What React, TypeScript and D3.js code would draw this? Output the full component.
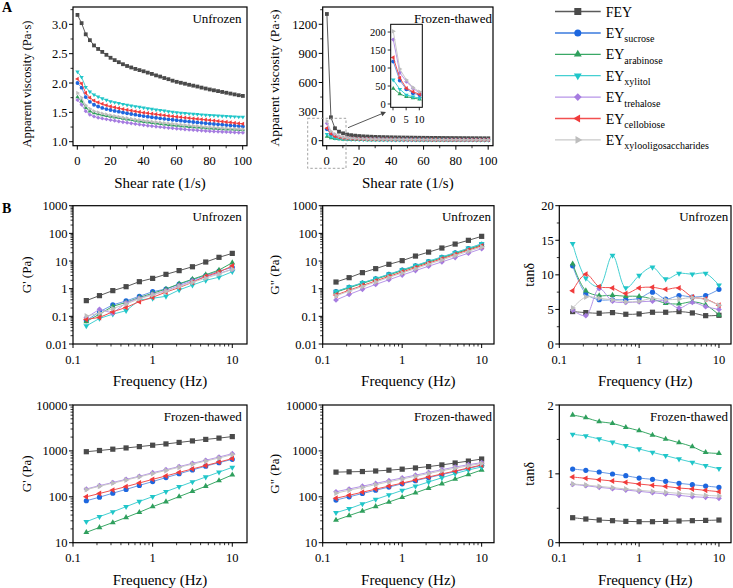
import React from 'react';
import * as d3 from 'd3';

const FONT = "'Liberation Serif', 'Times New Roman', Times, serif";

// ---------- series identity ----------
const seriesMain = ['FEY', 'EY', 'EY', 'EY', 'EY', 'EY', 'EY'];
const seriesSub = ['', 'sucrose', 'arabinose', 'xylitol', 'trehalose', 'cellobiose', 'xylooligosaccharides'];
const markerColors = ['#4a4a4a', '#1d67df', '#2f9f5d', '#20c6c9', '#a67ce0', '#f03b3b', '#bdbdbd'];
const lineColors = ['#5a5a5a', '#6b9be6', '#3aa866', '#45d0d2', '#b795e8', '#f25050', '#c9c9c9'];
const markerShapes = ['square', 'circle', 'up', 'down', 'diamond', 'left', 'right'];

// ---------- A: apparent viscosity vs shear rate ----------
const shearRate = [0.1, 2.6, 5.1, 7.6, 10.1, 12.6, 15.1, 17.6, 20.1, 22.6, 25.1, 27.6, 30.1, 32.6, 35.1, 37.6, 40.1, 42.6, 45.1, 47.6, 50.1, 52.6, 55.1, 57.6, 60.1, 62.6, 65.1, 67.6, 70.1, 72.6, 75.1, 77.6, 80.1, 82.6, 85.1, 87.6, 90.1, 92.6, 95.1, 97.6, 100.1];

const viscUnfrozenFEY = [3.16, 3.02, 2.83, 2.73, 2.64, 2.58, 2.53, 2.48, 2.43, 2.39, 2.355, 2.32, 2.29, 2.265, 2.24, 2.22, 2.2, 2.177, 2.155, 2.13, 2.11, 2.085, 2.065, 2.04, 2.02, 2.004, 1.988, 1.97, 1.955, 1.94, 1.922, 1.906, 1.89, 1.876, 1.862, 1.848, 1.834, 1.82, 1.806, 1.792, 1.78];
const viscUnfrozenSucrose = [2.0, 1.92, 1.76, 1.68, 1.63, 1.6, 1.575, 1.556, 1.54, 1.525, 1.511, 1.498, 1.485, 1.472, 1.46, 1.448, 1.436, 1.426, 1.417, 1.408, 1.399, 1.39, 1.382, 1.374, 1.366, 1.358, 1.35, 1.343, 1.336, 1.329, 1.322, 1.315, 1.308, 1.302, 1.296, 1.29, 1.284, 1.278, 1.272, 1.266, 1.26];
const viscUnfrozenArabinose = [1.76, 1.69, 1.58, 1.52, 1.49, 1.47, 1.455, 1.442, 1.43, 1.418, 1.406, 1.394, 1.383, 1.372, 1.361, 1.35, 1.34, 1.331, 1.322, 1.313, 1.305, 1.297, 1.289, 1.281, 1.274, 1.268, 1.262, 1.256, 1.25, 1.245, 1.24, 1.235, 1.23, 1.226, 1.222, 1.218, 1.214, 1.21, 1.206, 1.202, 1.198];
const viscUnfrozenXylitol = [2.19, 2.1, 1.93, 1.85, 1.8, 1.765, 1.735, 1.71, 1.685, 1.67, 1.655, 1.64, 1.627, 1.614, 1.602, 1.59, 1.578, 1.567, 1.556, 1.546, 1.536, 1.526, 1.516, 1.506, 1.497, 1.49, 1.484, 1.478, 1.472, 1.466, 1.461, 1.456, 1.451, 1.447, 1.443, 1.439, 1.435, 1.431, 1.427, 1.423, 1.42];
const viscUnfrozenTrehalose = [1.71, 1.63, 1.52, 1.46, 1.43, 1.41, 1.395, 1.382, 1.37, 1.358, 1.346, 1.335, 1.324, 1.313, 1.303, 1.293, 1.283, 1.274, 1.266, 1.258, 1.25, 1.243, 1.236, 1.229, 1.222, 1.216, 1.21, 1.204, 1.199, 1.194, 1.189, 1.184, 1.18, 1.176, 1.172, 1.168, 1.165, 1.162, 1.159, 1.156, 1.153];
const viscUnfrozenCellobiose = [2.07, 1.99, 1.83, 1.75, 1.7, 1.67, 1.645, 1.62, 1.6, 1.585, 1.57, 1.556, 1.543, 1.53, 1.518, 1.506, 1.495, 1.486, 1.477, 1.468, 1.459, 1.45, 1.441, 1.433, 1.425, 1.417, 1.41, 1.402, 1.395, 1.388, 1.381, 1.374, 1.367, 1.36, 1.352, 1.344, 1.336, 1.328, 1.32, 1.312, 1.305];
const viscUnfrozenXylo = [1.83, 1.75, 1.62, 1.56, 1.52, 1.5, 1.48, 1.465, 1.45, 1.437, 1.424, 1.412, 1.4, 1.389, 1.378, 1.368, 1.358, 1.35, 1.342, 1.334, 1.326, 1.318, 1.311, 1.304, 1.297, 1.29, 1.283, 1.277, 1.271, 1.265, 1.259, 1.253, 1.247, 1.242, 1.237, 1.232, 1.228, 1.224, 1.22, 1.216, 1.212];

const viscThawedFEY = [1306, 241, 128, 93, 76, 64, 57, 52, 48, 45, 43, 41, 39.5, 38, 37, 36, 35, 34.2, 33.5, 32.8, 32.2, 31.6, 31, 30.5, 30, 29.6, 29.2, 28.8, 28.4, 28, 27.7, 27.4, 27.1, 26.8, 26.5, 26.2, 26, 25.7, 25.5, 25.2, 25];
const viscThawedSucrose = [118, 65, 41, 30, 25, 21, 18.8, 17.2, 16, 15, 14.2, 13.6, 13, 12.5, 12.1, 11.7, 11.3, 11, 10.7, 10.4, 10.2, 10, 9.8, 9.6, 9.4, 9.2, 9, 8.9, 8.7, 8.6, 8.5, 8.3, 8.2, 8.1, 8, 7.9, 7.8, 7.7, 7.6, 7.5, 7.4];
const viscThawedArabinose = [43, 28, 20, 17, 13, 11.5, 10.4, 9.6, 9, 8.5, 8.1, 7.8, 7.5, 7.2, 7, 6.8, 6.6, 6.4, 6.3, 6.1, 6, 5.9, 5.8, 5.7, 5.6, 5.5, 5.4, 5.3, 5.25, 5.2, 5.1, 5.05, 5, 4.95, 4.9, 4.85, 4.8, 4.75, 4.7, 4.65, 4.6];
const viscThawedXylitol = [67, 41, 25, 20, 16, 14, 12.6, 11.6, 10.8, 10.2, 9.7, 9.3, 8.9, 8.6, 8.3, 8.1, 7.9, 7.7, 7.5, 7.3, 7.2, 7, 6.9, 6.8, 6.7, 6.6, 6.5, 6.4, 6.3, 6.2, 6.1, 6, 5.95, 5.9, 5.8, 5.75, 5.7, 5.6, 5.55, 5.5, 5.45];
const viscThawedTrehalose = [179, 87, 62, 44, 30, 25, 22, 20, 18.5, 17.2, 16.2, 15.4, 14.8, 14.2, 13.7, 13.2, 12.8, 12.4, 12.1, 11.8, 11.5, 11.2, 11, 10.8, 10.6, 10.4, 10.2, 10, 9.9, 9.7, 9.6, 9.4, 9.3, 9.2, 9.1, 9, 8.9, 8.8, 8.7, 8.6, 8.5];
const viscThawedCellobiose = [129, 72, 44, 34, 27, 23, 20.5, 18.8, 17.4, 16.3, 15.4, 14.7, 14.1, 13.6, 13.1, 12.7, 12.3, 12, 11.7, 11.4, 11.1, 10.9, 10.7, 10.5, 10.3, 10.1, 9.9, 9.8, 9.6, 9.5, 9.3, 9.2, 9.1, 9, 8.9, 8.8, 8.7, 8.6, 8.5, 8.4, 8.3];
const viscThawedXylo = [202, 97, 67, 46, 34, 28, 24, 21, 19.5, 18, 17, 16.2, 15.5, 15, 14.5, 14, 13.6, 13.2, 12.9, 12.6, 12.3, 12, 11.8, 11.6, 11.4, 11.2, 11, 10.8, 10.6, 10.5, 10.3, 10.2, 10, 9.9, 9.8, 9.6, 9.5, 9.4, 9.3, 9.2, 9.1];

// ---------- B: frequency sweeps ----------
const freq = [0.147, 0.215, 0.316, 0.464, 0.681, 1, 1.47, 2.15, 3.16, 4.64, 6.81, 10];

const gpUnfrozenFEY = [0.37, 0.56, 0.85, 1.18, 1.79, 2.36, 3.3, 4.5, 6.2, 9.2, 13.6, 18.9];
const gpUnfrozenSucrose = [0.07, 0.146, 0.26, 0.36, 0.53, 0.78, 0.97, 1.45, 2.1, 3.0, 4.3, 5.9];
const gpUnfrozenArabinose = [0.065, 0.12, 0.23, 0.32, 0.48, 0.68, 0.97, 1.5, 2.2, 3.2, 4.7, 8.7];
const gpUnfrozenXylitol = [0.045, 0.084, 0.12, 0.16, 0.39, 0.45, 0.53, 0.9, 1.35, 2.0, 2.6, 4.1];
const gpUnfrozenTrehalose = [0.09, 0.18, 0.13, 0.31, 0.45, 0.62, 0.85, 1.3, 1.9, 2.7, 3.6, 5.0];
const gpUnfrozenCellobiose = [0.078, 0.091, 0.146, 0.21, 0.34, 0.49, 0.75, 1.1, 1.7, 2.8, 4.0, 6.6];
const gpUnfrozenXylo = [0.103, 0.13, 0.19, 0.28, 0.43, 0.6, 0.8, 1.2, 1.7, 2.4, 3.4, 5.0];

const gppUnfrozenFEY = [1.74, 2.5, 3.8, 5.3, 7.6, 10.3, 15.1, 21, 29.5, 41, 56, 78];
const gppUnfrozenSucrose = [0.78, 1.12, 1.6, 2.29, 3.27, 4.7, 6.7, 9.6, 13.7, 19.6, 28, 40];
const gppUnfrozenArabinose = [0.75, 1.08, 1.55, 2.2, 3.15, 4.5, 6.4, 9.2, 13.1, 18.7, 26.6, 38];
const gppUnfrozenXylitol = [0.8, 1.15, 1.63, 2.33, 3.33, 4.8, 6.9, 9.9, 14.1, 20.2, 29, 42];
const gppUnfrozenTrehalose = [0.39, 0.62, 0.95, 1.42, 2.1, 3.1, 4.5, 6.5, 9.3, 13.3, 19.2, 28];
const gppUnfrozenCellobiose = [0.59, 0.88, 1.3, 1.9, 2.8, 4.0, 5.8, 8.4, 12, 17.3, 24.8, 35];
const gppUnfrozenXylo = [0.55, 0.82, 1.2, 1.75, 2.55, 3.7, 5.3, 7.7, 11, 15.8, 22.6, 32];

const tanUnfrozenFEY = [4.69, 4.54, 4.44, 4.54, 4.3, 4.35, 4.59, 4.59, 4.69, 4.49, 4.1, 4.15];
const tanUnfrozenSucrose = [11.3, 7.3, 6.4, 6.4, 6.4, 6.6, 7.5, 6.5, 7.0, 6.8, 7.0, 7.9];
const tanUnfrozenArabinose = [11.6, 7.7, 7.0, 7.05, 6.9, 6.9, 6.5, 5.9, 5.8, 6.1, 5.65, 4.2];
const tanUnfrozenXylitol = [14.5, 9.5, 8.3, 12.8, 8.1, 9.9, 11.1, 9.4, 10.2, 10.1, 10.2, 8.5];
const tanUnfrozenTrehalose = [4.9, 4.1, 8.0, 6.2, 6.0, 6.1, 6.2, 6.2, 5.2, 6.0, 5.4, 5.0];
const tanUnfrozenCellobiose = [7.7, 10.1, 8.3, 8.1, 7.3, 8.1, 8.2, 7.9, 8.1, 6.8, 6.5, 5.6];
const tanUnfrozenXylo = [5.2, 6.8, 6.6, 6.4, 6.1, 6.2, 6.6, 6.4, 6.5, 6.7, 6.4, 5.6];

const gpThawedFEY = [960, 1020, 1090, 1160, 1240, 1330, 1420, 1530, 1650, 1780, 1900, 2050];
const gpThawedSucrose = [82, 98, 120, 145, 177, 215, 262, 318, 385, 465, 555, 655];
const gpThawedArabinose = [16.8, 21.5, 27.5, 35.5, 46, 61, 78, 101, 131, 170, 225, 300];
const gpThawedXylitol = [28.7, 37, 47, 61, 79, 101, 130, 166, 212, 270, 345, 438];
const gpThawedTrehalose = [148, 175, 205, 240, 280, 335, 390, 455, 535, 625, 735, 870];
const gpThawedCellobiose = [100, 118, 140, 167, 200, 240, 285, 340, 405, 480, 570, 680];
const gpThawedXylo = [143, 170, 198, 232, 272, 320, 375, 440, 515, 600, 700, 830];

const gppThawedFEY = [345, 350, 355, 365, 380, 400, 425, 455, 495, 545, 600, 665];
const gppThawedSucrose = [85, 100, 118, 139, 163, 192, 225, 262, 305, 355, 415, 480];
const gppThawedArabinose = [31, 39, 49, 61.5, 77, 97, 122, 154, 193, 243, 305, 384];
const gppThawedXylitol = [45, 55, 70, 88, 110, 138, 170, 210, 260, 320, 385, 445];
const gppThawedTrehalose = [129, 148, 170, 196, 225, 258, 296, 340, 390, 445, 500, 555];
const gppThawedCellobiose = [93, 108, 126, 147, 171, 199, 232, 270, 315, 365, 425, 493];
const gppThawedXylo = [120, 139, 160, 184, 212, 244, 280, 322, 370, 420, 475, 530];

const tanThawedFEY = [0.363, 0.344, 0.329, 0.32, 0.31, 0.305, 0.305, 0.31, 0.315, 0.32, 0.324, 0.329];
const tanThawedSucrose = [1.07, 1.051, 1.027, 0.998, 0.973, 0.939, 0.92, 0.891, 0.862, 0.843, 0.823, 0.804];
const tanThawedArabinose = [1.855, 1.816, 1.758, 1.734, 1.676, 1.627, 1.564, 1.506, 1.453, 1.395, 1.312, 1.298];
const tanThawedXylitol = [1.574, 1.55, 1.506, 1.458, 1.409, 1.361, 1.312, 1.264, 1.215, 1.167, 1.119, 1.075];
const tanThawedTrehalose = [0.847, 0.828, 0.804, 0.785, 0.765, 0.746, 0.726, 0.707, 0.688, 0.668, 0.659, 0.644];
const tanThawedCellobiose = [0.954, 0.935, 0.915, 0.896, 0.877, 0.852, 0.833, 0.818, 0.794, 0.78, 0.76, 0.741];
const tanThawedXylo = [0.852, 0.838, 0.818, 0.8, 0.78, 0.76, 0.746, 0.731, 0.717, 0.702, 0.688, 0.678];

// ---------- helpers ----------
type Series = { k: number; xs: number[]; ys: number[] };
const group = (xs: number[], sets: number[][]): Series[] => sets.map((ys, k) => ({ k, xs, ys }));

function symbolFor(shape: string, s: number) {
  let t: any = d3.symbolSquare;
  let rot = 0;
  let area = s * s;
  if (shape === 'circle') { t = d3.symbolCircle; area = s * s * 0.785; }
  else if (shape === 'up') { t = d3.symbolTriangle; area = s * s * 0.55; }
  else if (shape === 'down') { t = d3.symbolTriangle; rot = 180; area = s * s * 0.55; }
  else if (shape === 'left') { t = d3.symbolTriangle; rot = -90; area = s * s * 0.55; }
  else if (shape === 'right') { t = d3.symbolTriangle; rot = 90; area = s * s * 0.55; }
  else if (shape === 'diamond') { t = d3.symbolSquare; rot = 45; area = s * s * 0.6; }
  return { d: d3.symbol(t, area)() as string, rot };
}

function Marker({ k, x, y, s }: { k: number; x: number; y: number; s: number }) {
  const { d, rot } = symbolFor(markerShapes[k], s);
  return <path d={d} transform={`translate(${x},${y}) rotate(${rot})`} fill={markerColors[k]} stroke="none" />;
}

function logMinor(lo: number, hi: number) {
  const out: number[] = [];
  for (let e = Math.floor(Math.log10(lo)); e <= Math.ceil(Math.log10(hi)); e++) {
    for (let m = 2; m <= 9; m++) {
      const v = m * Math.pow(10, e);
      if (v > lo && v < hi) out.push(v);
    }
  }
  return out;
}

interface PanelProps {
  l: number; r: number; t: number; b: number;
  xLog?: boolean; xDomain: [number, number]; xTicks: number[]; xMinor?: number[];
  yLog?: boolean; yDomain: [number, number]; yTicks: number[]; yMinor?: number[];
  fmtY?: (v: number) => string;
  xLabel: string; yLabel: string; yLabelX: number; yLabelY?: number; yLabelSize?: number;
  note: string; noteX: number;
  series: Series[]; ms: number; curve?: any;
  tickSize?: number;
}

function Panel(p: PanelProps) {
  const x: any = (p.xLog ? d3.scaleLog() : d3.scaleLinear()).domain(p.xDomain).range([p.l, p.r]);
  const y: any = (p.yLog ? d3.scaleLog() : d3.scaleLinear()).domain(p.yDomain).range([p.b, p.t]);
  const line = d3.line<[number, number]>().x((d) => x(d[0])).y((d) => y(d[1])).curve(p.curve || d3.curveLinear);
  const xMinor = p.xMinor || (p.xLog ? logMinor(p.xDomain[0], p.xDomain[1]) : []);
  const yMinor = p.yMinor || (p.yLog ? logMinor(p.yDomain[0], p.yDomain[1]) : []);
  const fmtY = p.fmtY || ((v: number) => String(v));
  const ts = p.tickSize || 12.5;
  return (
    <g>
      {p.series.map((s) => (
        <g key={s.k}>
          <path d={line(s.xs.map((v, i) => [v, s.ys[i]]) as [number, number][]) as string}
            fill="none" stroke={lineColors[s.k]} strokeWidth={1} />
          {s.xs.map((v, i) => <Marker key={i} k={s.k} x={x(v)} y={y(s.ys[i])} s={p.ms} />)}
        </g>
      ))}
      <rect x={p.l} y={p.t} width={p.r - p.l} height={p.b - p.t} fill="none" stroke="#000" strokeWidth={1.2} />
      {p.xTicks.map((v) => (
        <g key={'xt' + v}>
          <line x1={x(v)} x2={x(v)} y1={p.b} y2={p.b + 4} stroke="#000" strokeWidth={1} />
          <text x={x(v)} y={p.b + 19.5} textAnchor="middle" fontSize={ts}>{String(v)}</text>
        </g>
      ))}
      {xMinor.map((v) => <line key={'xm' + v} x1={x(v)} x2={x(v)} y1={p.b} y2={p.b + 2.5} stroke="#000" strokeWidth={0.8} />)}
      {p.yTicks.map((v) => (
        <g key={'yt' + v}>
          <line x1={p.l - 4} x2={p.l} y1={y(v)} y2={y(v)} stroke="#000" strokeWidth={1} />
          <text x={p.l - 5.5} y={y(v)} dy="0.36em" textAnchor="end" fontSize={ts}>{fmtY(v)}</text>
        </g>
      ))}
      {yMinor.map((v) => <line key={'ym' + v} x1={p.l - 2.5} x2={p.l} y1={y(v)} y2={y(v)} stroke="#000" strokeWidth={0.8} />)}
      <text x={(p.l + p.r) / 2} y={p.b + 42} textAnchor="middle" fontSize={15}>{p.xLabel}</text>
      <text transform={`translate(${p.yLabelX},${p.yLabelY ?? (p.t + p.b) / 2}) rotate(-90)`} dy="0.35em"
        textAnchor="middle" fontSize={p.yLabelSize || 13}>{p.yLabel}</text>
      <text x={p.noteX} y={p.t + 15.5} textAnchor="end" fontSize={13}>{p.note}</text>
    </g>
  );
}

// ---------- inset of panel A (frozen-thawed) ----------
function Inset() {
  const l = 390.7, r = 422.3, t = 24.3, b = 107.3;
  const x = d3.scaleLinear().domain([-0.87, 11.14]).range([l, r]);
  const y = d3.scaleLinear().domain([-9.2, 221.5]).range([b, t]);
  const sets = [viscThawedSucrose, viscThawedArabinose, viscThawedXylitol, viscThawedTrehalose, viscThawedCellobiose, viscThawedXylo];
  const xs = shearRate.slice(0, 5);
  const line = d3.line<[number, number]>().x((d) => x(d[0])).y((d) => y(d[1]));
  return (
    <g>
      <rect x={l} y={t} width={r - l} height={b - t} fill="#fff" stroke="none" />
      {sets.map((ys, j) => {
        const k = j + 1;
        const pts = xs.map((v, i) => [v, ys[i]] as [number, number]);
        return (
          <g key={k}>
            <path d={line(pts) as string} fill="none" stroke={lineColors[k]} strokeWidth={1} />
            {pts.map((pt, i) => <Marker key={i} k={k} x={x(pt[0])} y={y(pt[1])} s={4} />)}
          </g>
        );
      })}
      <rect x={l} y={t} width={r - l} height={b - t} fill="none" stroke="#000" strokeWidth={1} />
      {[0, 50, 100, 150, 200].map((v) => (
        <g key={v}>
          <line x1={l - 3} x2={l} y1={y(v)} y2={y(v)} stroke="#000" strokeWidth={0.8} />
          <text x={l - 5} y={y(v)} dy="0.36em" textAnchor="end" fontSize={10.5}>{v}</text>
        </g>
      ))}
      {[0, 5, 10].map((v) => (
        <g key={v}>
          <line x1={x(v)} x2={x(v)} y1={b} y2={b + 3} stroke="#000" strokeWidth={0.8} />
          <text x={x(v)} y={b + 15.5} textAnchor="middle" fontSize={10.5}>{v}</text>
        </g>
      ))}
    </g>
  );
}

function Legend() {
  const rows = d3.range(seriesMain.length);
  const y = d3.scaleLinear().domain([0, 6]).range([11.5, 139.9]);
  return (
    <g>
      {rows.map((k) => (
        <g key={k}>
          <line x1={555} x2={600.7} y1={y(k)} y2={y(k)} stroke={lineColors[k]} strokeWidth={k === 1 ? 2 : 1.3} />
          <Marker k={k} x={577.8} y={y(k)} s={7} />
          <text x={605.7} y={y(k) + 5} fontSize={14}>
            {seriesMain[k]}
            {seriesSub[k] ? <tspan fontSize={10} dy={4.5}>{seriesSub[k]}</tspan> : null}
          </text>
        </g>
      ))}
    </g>
  );
}

export default function App() {
  const fmt1 = d3.format('.1f');
  const linTicks = [0, 20, 40, 60, 80, 100];
  const linMinor = [10, 30, 50, 70, 90];
  const rowY1 = { t: 205.7, b: 344 };
  const rowY2 = { t: 405, b: 542.7 };
  const colX = [{ l: 73, r: 247 }, { l: 322.7, r: 494 }, { l: 559.3, r: 731 }];

  const arrow = { x1: 348, y1: 127.7, x2: 386, y2: 112 };
  const ang = Math.atan2(arrow.y2 - arrow.y1, arrow.x2 - arrow.x1);
  const ah = 5, aw = 2.5;
  const head = [
    [arrow.x2, arrow.y2],
    [arrow.x2 - ah * Math.cos(ang) + aw * Math.sin(ang), arrow.y2 - ah * Math.sin(ang) - aw * Math.cos(ang)],
    [arrow.x2 - ah * Math.cos(ang) - aw * Math.sin(ang), arrow.y2 - ah * Math.sin(ang) + aw * Math.cos(ang)],
  ];

  return (
    <svg width={733} height={588} style={{ position: 'absolute', left: 0, top: 0, background: '#fff', fontFamily: FONT, fontWeight: 'normal' }}
      fill="#000">
      <rect x={0} y={0} width={733} height={588} fill="#fff" />
      <text x={2} y={12} fontSize={14} fontWeight="bold">A</text>
      <text x={2} y={213} fontSize={14} fontWeight="bold">B</text>

      <Panel l={73} r={247} t={7} b={145.7} xDomain={[-2.6, 102.6]} xTicks={linTicks} xMinor={linMinor}
        yDomain={[0.932, 3.295]} yTicks={[1, 1.5, 2, 2.5, 3]} yMinor={[1.25, 1.75, 2.25, 2.75, 3.25]} fmtY={fmt1}
        xLabel="Shear rate (1/s)" yLabel="Apparent viscosity (Pa·s)" yLabelX={27} yLabelY={84} yLabelSize={12.5}
        note="Unfrozen" noteX={241.5} ms={3.8}
        series={group(shearRate, [viscUnfrozenFEY, viscUnfrozenSucrose, viscUnfrozenArabinose, viscUnfrozenXylitol, viscUnfrozenTrehalose, viscUnfrozenCellobiose, viscUnfrozenXylo])} />

      <Panel l={322.7} r={493} t={7} b={145.7} xDomain={[-2.5, 103]} xTicks={linTicks} xMinor={linMinor}
        yDomain={[-51.5, 1378]} yTicks={[0, 300, 600, 900, 1200]} yMinor={[150, 450, 750, 1050, 1350]}
        xLabel="Shear rate (1/s)" yLabel="Apparent viscosity (Pa·s)" yLabelX={274} yLabelY={78} yLabelSize={13.5}
        note="Frozen-thawed" noteX={492} ms={3.8}
        series={group(shearRate, [viscThawedFEY, viscThawedSucrose, viscThawedArabinose, viscThawedXylitol, viscThawedTrehalose, viscThawedCellobiose, viscThawedXylo])} />

      <rect x={307.7} y={118.3} width={38.3} height={50} fill="none" stroke="#999" strokeWidth={0.9} strokeDasharray="2.5,2" />
      <line x1={arrow.x1} y1={arrow.y1} x2={arrow.x2 - 4 * Math.cos(ang)} y2={arrow.y2 - 4 * Math.sin(ang)} stroke="#444" strokeWidth={0.9} />
      <polygon points={head.map((p) => p.join(',')).join(' ')} fill="#444" />
      <Inset />

      <Legend />

      <Panel {...colX[0]} {...rowY1} xLog xDomain={[0.1, 15.3]} xTicks={[0.1, 1, 10]}
        yLog yDomain={[0.01, 1000]} yTicks={[0.01, 0.1, 1, 10, 100, 1000]}
        xLabel="Frequency (Hz)" yLabel="G' (Pa)" yLabelX={26} note="Unfrozen" noteX={241.7} ms={5.2}
        series={group(freq, [gpUnfrozenFEY, gpUnfrozenSucrose, gpUnfrozenArabinose, gpUnfrozenXylitol, gpUnfrozenTrehalose, gpUnfrozenCellobiose, gpUnfrozenXylo])} />
      <Panel {...colX[1]} {...rowY1} xLog xDomain={[0.1, 14.3]} xTicks={[0.1, 1, 10]}
        yLog yDomain={[0.01, 1000]} yTicks={[0.01, 0.1, 1, 10, 100, 1000]}
        xLabel="Frequency (Hz)" yLabel={'G" (Pa)'} yLabelX={274} note="Unfrozen" noteX={491} ms={5.2}
        series={group(freq, [gppUnfrozenFEY, gppUnfrozenSucrose, gppUnfrozenArabinose, gppUnfrozenXylitol, gppUnfrozenTrehalose, gppUnfrozenCellobiose, gppUnfrozenXylo])} />
      <Panel {...colX[2]} {...rowY1} xLog xDomain={[0.1, 14.15]} xTicks={[0.1, 1, 10]}
        yDomain={[0, 20]} yTicks={[0, 5, 10, 15, 20]} yMinor={[2.5, 7.5, 12.5, 17.5]}
        xLabel="Frequency (Hz)" yLabel="tanδ" yLabelX={529} yLabelSize={14} note="Unfrozen" noteX={728.3} ms={5.2}
        curve={d3.curveCatmullRom}
        series={group(freq, [tanUnfrozenFEY, tanUnfrozenSucrose, tanUnfrozenArabinose, tanUnfrozenXylitol, tanUnfrozenTrehalose, tanUnfrozenCellobiose, tanUnfrozenXylo])} />

      <Panel {...colX[0]} {...rowY2} xLog xDomain={[0.1, 15.3]} xTicks={[0.1, 1, 10]}
        yLog yDomain={[10, 10000]} yTicks={[10, 100, 1000, 10000]}
        xLabel="Frequency (Hz)" yLabel="G' (Pa)" yLabelX={26} note="Frozen-thawed" noteX={241.7} ms={5.2}
        series={group(freq, [gpThawedFEY, gpThawedSucrose, gpThawedArabinose, gpThawedXylitol, gpThawedTrehalose, gpThawedCellobiose, gpThawedXylo])} />
      <Panel {...colX[1]} {...rowY2} xLog xDomain={[0.1, 14.3]} xTicks={[0.1, 1, 10]}
        yLog yDomain={[10, 10000]} yTicks={[10, 100, 1000, 10000]}
        xLabel="Frequency (Hz)" yLabel={'G" (Pa)'} yLabelX={274} note="Frozen-thawed" noteX={492} ms={5.2}
        series={group(freq, [gppThawedFEY, gppThawedSucrose, gppThawedArabinose, gppThawedXylitol, gppThawedTrehalose, gppThawedCellobiose, gppThawedXylo])} />
      <Panel {...colX[2]} {...rowY2} xLog xDomain={[0.1, 14.15]} xTicks={[0.1, 1, 10]}
        yDomain={[0, 2]} yTicks={[0, 1, 2]} yMinor={[0.5, 1.5]}
        xLabel="Frequency (Hz)" yLabel="tanδ" yLabelX={529} yLabelSize={14} note="Frozen-thawed" noteX={728} ms={5.2}
        curve={d3.curveCatmullRom}
        series={group(freq, [tanThawedFEY, tanThawedSucrose, tanThawedArabinose, tanThawedXylitol, tanThawedTrehalose, tanThawedCellobiose, tanThawedXylo])} />
    </svg>
  );
}
